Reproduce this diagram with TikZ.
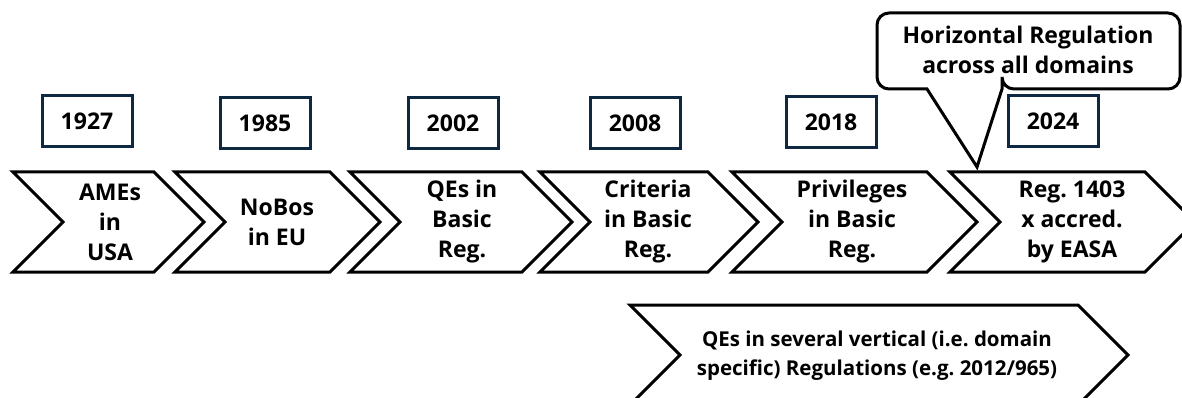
\documentclass[tikz,border=0pt]{standalone}
\usepackage{fontspec}
\setmainfont{Open Sans}
\frenchspacing
\definecolor{yearblue}{HTML}{0E2841}

\begin{document}
\begin{tikzpicture}[
			x=1pt, y=-1pt,
			every node/.style={font=\fontsize{23}{30}\selectfont\bfseries, align=center},
			chev/.style={draw=black, line width=3pt, fill=white},
			yearbox/.style={draw=yearblue, line width=3pt, minimum width=90pt, minimum height=51pt,
				inner sep=0pt, font=\fontsize{23}{28}\selectfont\bfseries},
			callout/.style={draw=black, line width=3pt, fill=white}
			]
			\useasboundingbox (0,0) rectangle (1182,398);
			\clip (0,0) rectangle (1182,398);
			
			% years
			\foreach \yr/\x/\y in {1927/87/121, 1985/265/123, 2002/453/123, 2008/635/123, 2018/831/122, 2024/1053/121}
			{
				\node[yearbox] (y\yr) at (\x,\y) {\yr};
			}
			
			% chevrons of the time line
			\foreach \name/\l/\t/\cx/\txt in {
				ames/13/204/110/{AMEs\\in\\USA},
				nobos/175/380/277/{NoBos\\in EU},
				qes/350/572/462/{QEs in\\Basic\\Reg.},
				criteria/540/758/648/{Criteria\\in Basic\\Reg.},
				privileges/732/977/852/{Privileges\\in Basic\\Reg.},
				accred/950/1195/1072/{Reg. 1403\\x accred.\\by EASA}}
			{
				\draw[chev] (\l,172) -- (\t-50,172) -- (\t,222) -- (\t-50,272) -- (\l,272) -- (\l+50,222) -- cycle;
				\node (\name) at (\cx,222) {\txt};
			}
			
			% vertical regulations
			\draw[chev] (630,305) -- (1078,305) -- (1128,355) -- (1078,405) -- (630,405) -- (680,355) -- cycle;
			\node[font=\fontsize{20.5}{29}\selectfont\bfseries] (vertical) at (877,356)
				{QEs in several vertical (i.e. domain\\specific) Regulations (e.g. 2012/965)};
			
			% horizontal regulation callout
			\coordinate (tip) at (977,167);
			\draw[callout] (1002,89) -- (tip) -- (927,89) [rounded corners=12pt] -- (877,89) -- (877,13)
				-- (1180,13) -- (1180,89) -- (1002,89) [sharp corners] -- cycle;
			\node (horiz) at (1028,50) {Horizontal Regulation\\across all domains};
		\end{tikzpicture}
\end{document}
